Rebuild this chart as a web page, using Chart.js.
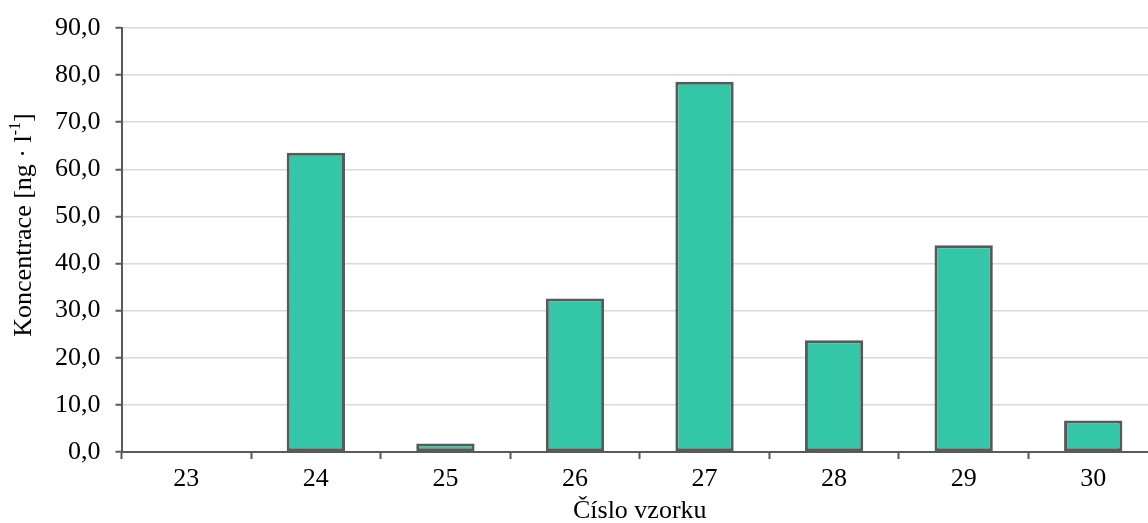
<!DOCTYPE html>
<html>
<head>
<meta charset="utf-8">
<title>Koncentrace</title>
<script src="https://cdn.jsdelivr.net/npm/chart.js@4/dist/chart.umd.min.js"></script>
<style>
	html, body { margin: 0; padding: 0; background: #fff; overflow: hidden; }
	#box { position: relative; width: 1160px; height: 523px; }
</style>
</head>
<body>
<div id="box"><canvas id="chart"></canvas></div>
<script>
/* Sample numbers on the x-axis and measured concentrations. */
const categories = ['23', '24', '25', '26', '27', '28', '29', '30'];
const concentrations = [0, 63.5, 1.8, 32.6, 78.6, 23.7, 43.9, 6.7];

/* Value axis range and step. */
const yMin = 0;
const yMax = 90;
const yStep = 10;

/* Axis titles; the y title has a superscript part in the middle. */
const xTitle = 'Číslo vzorku';
const yTitleParts = ['Koncentrace [ng · l', '-1', ']'];

const fontFamily = '"Liberation Serif", "Times New Roman", serif';
const axisColor = '#595959';

/*
 * Draw the rotated y-axis title ourselves so that the "-1" can be set as a
 * real superscript.
 */
const yTitlePlugin = {
	id: 'yTitle',
	afterDraw(chart) {
		const ctx = chart.ctx;
		const area = chart.chartArea;
		const big = '26px ' + fontFamily;
		const small = '16px ' + fontFamily;
		ctx.save();
		ctx.font = big;
		const w0 = ctx.measureText(yTitleParts[0]).width;
		const w2 = ctx.measureText(yTitleParts[2]).width;
		ctx.font = small;
		const w1 = ctx.measureText(yTitleParts[1]).width;
		const total = w0 + w1 + w2;
		ctx.translate(24, (area.top + area.bottom) / 2 - 15);
		ctx.rotate(-Math.PI / 2);
		ctx.fillStyle = '#000';
		ctx.textBaseline = 'middle';
		ctx.textAlign = 'left';
		let x = -total / 2;
		ctx.font = big;
		ctx.fillText(yTitleParts[0], x, 0);
		x += w0;
		ctx.font = small;
		ctx.fillText(yTitleParts[1], x, -8);
		x += w1;
		ctx.font = big;
		ctx.fillText(yTitleParts[2], x, 0);
		ctx.restore();
	}
};

window.addEventListener('load', () => {
	Chart.defaults.font.family = fontFamily;
	Chart.defaults.color = '#000';

	new Chart(document.getElementById('chart'), {
		type: 'bar',
		data: {
			labels: categories,
			datasets: [{
				data: concentrations,
				backgroundColor: '#33c7a8',
				borderColor: axisColor,
				borderWidth: 3,
				borderSkipped: false,
				barPercentage: 0.45,
				categoryPercentage: 1.0,
			}],
		},
		plugins: [yTitlePlugin],
		options: {
			responsive: true,
			maintainAspectRatio: false,
			animation: false,
			layout: {
				padding: { left: 40, top: 12, right: 2, bottom: 0 },
			},
			plugins: {
				legend: { display: false },
				tooltip: { enabled: false },
			},
			scales: {
				x: {
					border: { color: axisColor, width: 2 },
					grid: {
						display: true,
						offset: true,
						drawOnChartArea: false,
						drawTicks: true,
						tickLength: 7,
						tickColor: axisColor,
						tickWidth: 2,
					},
					ticks: {
						font: { size: 26, lineHeight: 1.0 },
						padding: 7,
						maxRotation: 0,
					},
					title: {
						display: true,
						text: xTitle,
						font: { size: 26, lineHeight: 24 / 26 },
						padding: { top: 0, bottom: 0 },
					},
				},
				y: {
					min: yMin,
					max: yMax,
					border: { color: axisColor, width: 2 },
					grid: {
						color: '#d9d9d9',
						lineWidth: 1.5,
						drawTicks: true,
						tickLength: 6,
						tickColor: axisColor,
						tickWidth: 2,
					},
					ticks: {
						stepSize: yStep,
						font: { size: 26, lineHeight: 1.0 },
						padding: 15,
						callback: (value) => Number(value).toFixed(1).replace('.', ','),
					},
				},
			},
		},
	});
});
</script>
</body>
</html>
